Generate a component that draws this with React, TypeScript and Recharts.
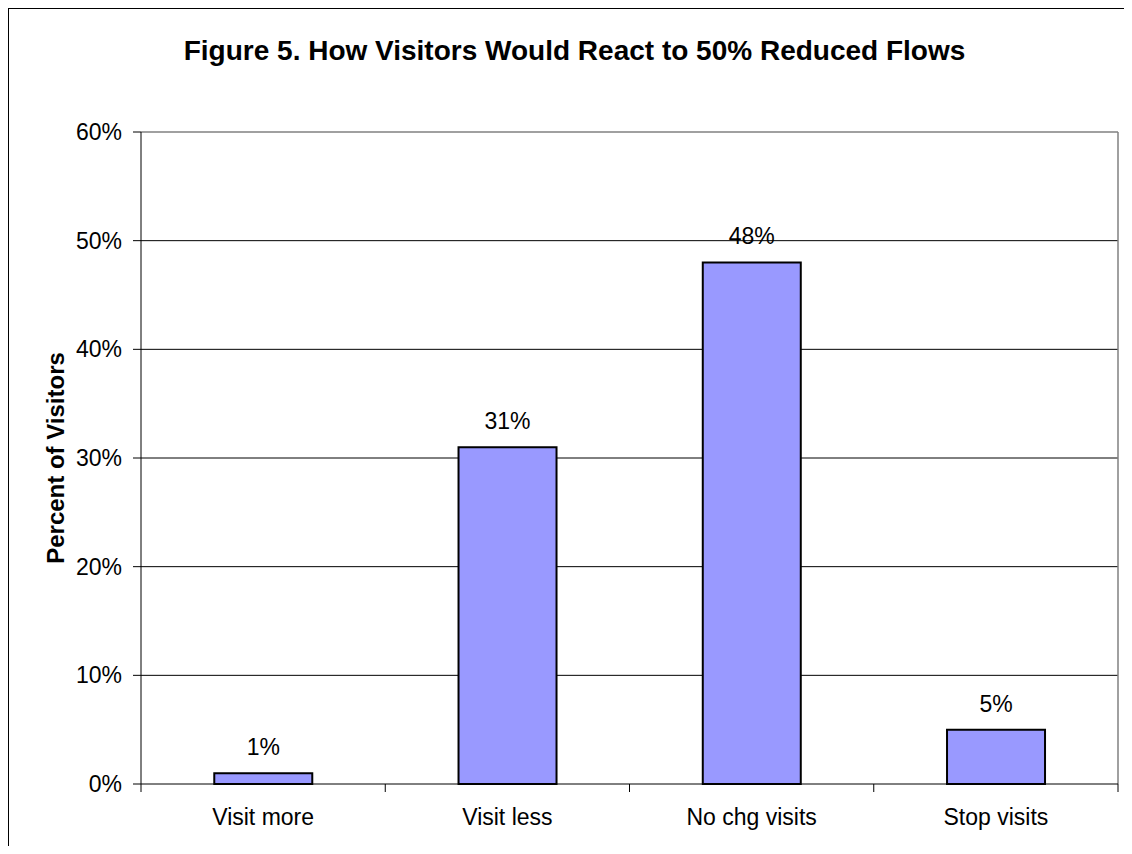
import { BarChart, Bar, XAxis, YAxis, CartesianGrid, LabelList, ReferenceLine } from 'recharts';

// Survey answers: share of visitors by reaction to 50% reduced flows
const categories = ['Visit more', 'Visit less', 'No chg visits', 'Stop visits'];
const percentVisitors = [1, 31, 48, 5];
const yTicks = [0, 10, 20, 30, 40, 50, 60];
const gridValues = [10, 20, 30, 40, 50];

const data = categories.map((name, i) => ({ name, value: percentVisitors[i] }));

const FONT = '"Liberation Sans", Arial, Helvetica, sans-serif';

// Excel-style category ticks: marks sit on the band edges, label in the middle
const CategoryTick = (props: any) => {
  const { x, y, payload, index } = props;
  const half = payload?.offset ?? 977 / categories.length / 2;
  return (
    <g>
      <line x1={x - half} y1={y} x2={x - half} y2={y + 8} stroke="#000" />
      {index === categories.length - 1 && (
        <line x1={x + half} y1={y} x2={x + half} y2={y + 8} stroke="#000" />
      )}
      <text x={x} y={y} dy={41} textAnchor="middle" fontSize={23} fill="#000">
        {payload.value}
      </text>
    </g>
  );
};

export default function App() {
  return (
    <div
      style={{
        position: 'relative',
        width: 1123,
        height: 837,
        borderTop: '1px solid #000',
        borderLeft: '1px solid #000',
        fontFamily: FONT,
        background: '#fff',
      }}
    >
      <div
        style={{
          position: 'absolute',
          top: 28,
          left: 8,
          width: 1115,
          textAlign: 'center',
          fontSize: 28,
          lineHeight: '28px',
          fontWeight: 'bold',
          color: '#000',
        }}
      >
        Figure 5. How Visitors Would React to 50% Reduced Flows
      </div>

      <BarChart
        width={1123}
        height={837}
        data={data}
        margin={{ top: 123, right: 14, bottom: 0, left: 40 }}
        barCategoryGap="30%"
      >
        <CartesianGrid stroke="#000" vertical={false} horizontalValues={gridValues} />
        <XAxis
          dataKey="name"
          height={62}
          tickLine={false}
          tickSize={0}
          tickMargin={0}
          axisLine={{ stroke: '#000' }}
          tick={<CategoryTick />}
          interval={0}
        />
        <YAxis
          width={92}
          domain={[0, 60]}
          ticks={yTicks}
          interval={0}
          tickFormatter={(v: number) => `${v}%`}
          tick={{ fontSize: 23, fill: '#000' }}
          tickSize={8}
          tickMargin={11}
          tickLine={{ stroke: '#000' }}
          axisLine={{ stroke: '#000' }}
          label={{
            value: 'Percent of Visitors',
            angle: -90,
            position: 'insideLeft',
            offset: 6,
            style: { textAnchor: 'middle', fontSize: 24, fontWeight: 'bold', fill: '#000' },
          }}
        />
        {/* gray plot-area frame on the top and right */}
        <ReferenceLine y={60} stroke="#808080" strokeWidth={1.5} />
        <ReferenceLine
          x={categories[categories.length - 1]}
          position="end"
          stroke="#808080"
          strokeWidth={1.5}
        />
        <Bar
          dataKey="value"
          fill="#9999FF"
          stroke="#000"
          strokeWidth={2}
          isAnimationActive={false}
        >
          <LabelList
            dataKey="value"
            position="top"
            offset={18}
            formatter={(v: any) => `${v}%`}
            fontSize={23}
            fill="#000"
          />
        </Bar>
      </BarChart>
    </div>
  );
}
